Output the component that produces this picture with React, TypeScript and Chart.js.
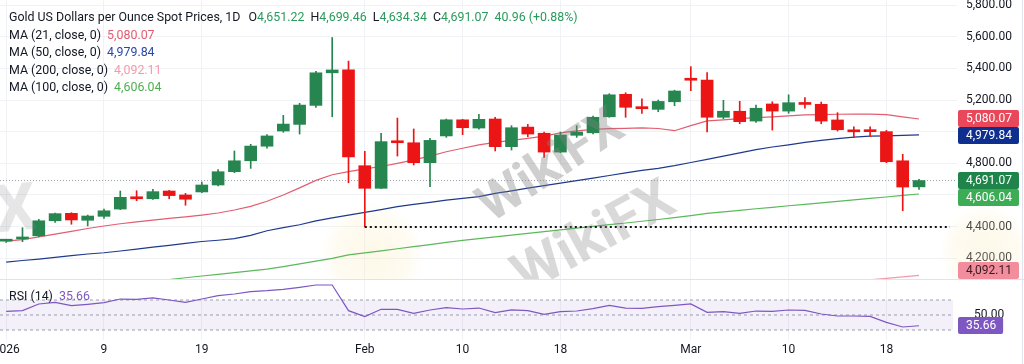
import React, { useEffect, useRef } from "react";
import { Chart, registerables } from "chart.js";

Chart.register(...registerables);

const FONT = "Roboto, 'Noto Sans', 'DejaVu Sans', sans-serif";
const UP = "#27864f";
const DOWN = "#ec1515";
const TXT = "#131722";

// ---- data ----
const dateTickIndex = [0, 6, 12, 22, 28, 34, 42, 48, 54];
const dateTickLabels = ["2026", "9", "19", "Feb", "10", "18", "Mar", "10", "18"];
const priceTicks = [4200, 4400, 4600, 4800, 5000, 5200, 5400, 5600, 5800];
const rsiTicks = [50];
const rsiLevels = [70, 50, 30];

const opens = [4308, 4322, 4342, 4437, 4484, 4440, 4465, 4511, 4587, 4576, 4625, 4600, 4619, 4663, 4747, 4816, 4908, 5004, 5046, 5166, 5372, 5390, 4785, 4642, 4939, 4930, 4804, 4973, 5075, 5023, 5080, 4905, 5029, 4990, 4871, 4977, 4993, 5094, 5236, 5158, 5141, 5189, 5335, 5326, 5091, 5129, 5067, 5175, 5130, 5183, 5173, 5074, 5001, 5003, 5000, 4816, 4651.22];
const highs = [4316, 4393, 4446, 4486, 4488, 4473, 4511, 4625, 4627, 4636, 4629, 4610, 4682, 4760, 4878, 4920, 4981, 5103, 5179, 5381, 5595, 5446, 4876, 4990, 5086, 5017, 4958, 5080, 5078, 5110, 5091, 5038, 5046, 4998, 4998, 5038, 5099, 5240, 5246, 5208, 5200, 5262, 5411, 5373, 5198, 5192, 5168, 5189, 5233, 5215, 5187, 5120, 5031, 5031, 5008, 4857, 4699.46];
const lows = [4300, 4305, 4336, 4427, 4415, 4404, 4452, 4507, 4564, 4572, 4576, 4535, 4614, 4657, 4741, 4768, 4895, 4996, 4985, 5154, 5094, 4677, 4398, 4642, 4846, 4789, 4652, 4964, 4981, 5015, 4878, 4884, 4968, 4838, 4867, 4964, 4985, 5091, 5091, 5116, 5126, 5164, 5259, 4998, 5082, 5050, 5059, 5010, 5116, 5148, 5050, 5004, 4962, 4968, 4804, 4500, 4634.34];
const closes = [4313, 4330, 4437, 4482, 4442, 4467, 4500, 4585, 4576, 4621, 4596, 4573, 4663, 4747, 4816, 4909, 4973, 5048, 5168, 5372, 5390, 4840, 4642, 4937, 4930, 4804, 4945, 5075, 5025, 5078, 4905, 5025, 4985, 4871, 4979, 4998, 5091, 5233, 5154, 5145, 5191, 5257, 5325, 5091, 5129, 5063, 5148, 5130, 5183, 5172, 5067, 5012, 4999, 5000, 4810, 4650.11, 4691.07];

const ma21 = [4308, 4318, 4335, 4352, 4370, 4388, 4404, 4418, 4430, 4441, 4452, 4462, 4473, 4486, 4505, 4528, 4560, 4600, 4645, 4692, 4728, 4747, 4765, 4780, 4800, 4822, 4845, 4873, 4895, 4916, 4932, 4945, 4958, 4972, 4992, 5005, 5014, 5019, 5021, 5024, 5020, 5006, 5038, 5068, 5075, 5082, 5089, 5094, 5100, 5106, 5108, 5110, 5111, 5111, 5108, 5094, 5080.07];
const ma50 = [4176, 4186, 4195, 4206, 4217, 4227, 4235, 4246, 4258, 4270, 4282, 4294, 4306, 4314, 4324, 4345, 4374, 4394, 4412, 4436, 4455, 4473, 4490, 4507, 4526, 4540, 4553, 4567, 4578, 4589, 4610, 4626, 4643, 4659, 4675, 4691, 4707, 4723, 4740, 4755, 4768, 4785, 4805, 4825, 4845, 4866, 4887, 4903, 4917, 4932, 4945, 4956, 4965, 4972, 4974, 4977, 4979.84];
const ma100 = [3956, 3967, 3978, 3989, 4000, 4011, 4022, 4033, 4044, 4055, 4066, 4077, 4088, 4098, 4109, 4120, 4131, 4147, 4164, 4182, 4199, 4221, 4234, 4247, 4260, 4273, 4286, 4300, 4313, 4324, 4335, 4346, 4357, 4368, 4379, 4390, 4401, 4412, 4423, 4434, 4445, 4457, 4470, 4484, 4493, 4503, 4513, 4522, 4532, 4541, 4550, 4560, 4569, 4578, 4587, 4597, 4606.04];
const ma200 = [3649, 3656, 3663, 3670, 3677, 3684, 3691, 3698, 3705, 3712, 3719, 3726, 3733, 3740, 3747, 3754, 3761, 3768, 3775, 3782, 3790, 3798, 3805, 3813, 3821, 3829, 3837, 3845, 3853, 3861, 3869, 3877, 3885, 3893, 3901, 3909, 3917, 3925, 3933, 3941, 3949, 3957, 3965, 3974, 3983, 3992, 4001, 4010, 4019, 4028, 4037, 4046, 4055, 4064, 4073, 4083, 4092.11];
const rsi14 = [54.8, 55.8, 64.7, 66.9, 62.4, 64.2, 66.4, 71.3, 70.9, 72.7, 70.0, 66.9, 71.3, 75.8, 78.0, 81.1, 82.4, 84.2, 86.9, 90.0, 90.0, 55.8, 47.8, 57.6, 57.6, 52.2, 56.7, 59.8, 58.0, 59.3, 53.1, 56.7, 55.8, 50.9, 54.4, 55.3, 58.4, 62.9, 59.3, 58.9, 61.1, 62.9, 64.7, 53.6, 54.4, 52.2, 55.3, 54.9, 56.7, 56.2, 51.3, 48.7, 48.7, 48.2, 40.2, 34.0, 35.66];

const supportLevel = 4398;
const supportStartIndex = 22;

// ---- layout constants ----
const W = 1024;
const PRICE_H = 279;
const RSI_H = 85;
const AXIS_W = 67;
const X_MIN = -0.38;
const X_MAX = 58.33;
const Y_MIN = 4069;
const Y_MAX = 5832;
const RSI_MIN = 16.67;
const RSI_MAX = 98;

const C_MA21 = "#e35d70";
const C_MA50 = "#1f3a8c";
const C_MA100 = "#5cb85c";
const C_MA200 = "#f29aaa";
const C_RSI = "#7e57c2";

const fmt = (v: number) =>
  v.toLocaleString("en-US", { minimumFractionDigits: 2, maximumFractionDigits: 2 });

const idx = opens.map((_, i) => i);
const last = idx.length - 1;
const candleColors = idx.map((i) => (closes[i] >= opens[i] ? UP : DOWN));

const badgePlugin = {
  id: "badges",
  afterDraw(chart: any, _a: any, opts: any) {
    const items = (opts && opts.items) || [];
    const scale = chart.scales.y;
    const area = chart.chartArea;
    const ctx = chart.ctx;
    const h = 17;
    const placed = items
      .map((it: any) => ({ text: it.text, bg: it.bg, fg: it.fg, py: scale.getPixelForValue(it.value) }))
      .sort((a: any, b: any) => a.py - b.py);
    for (let k = 1; k < placed.length; k++) {
      if (placed[k].py - placed[k - 1].py < h) placed[k].py = placed[k - 1].py + h;
    }
    for (let k = placed.length - 1; k >= 0; k--) {
      const maxY = area.bottom - h / 2 - 0.5;
      if (placed[k].py > maxY) placed[k].py = maxY;
    }
    ctx.save();
    ctx.font = `12px ${FONT}`;
    ctx.textBaseline = "middle";
    ctx.textAlign = "left";
    for (const p of placed) {
      const tw = ctx.measureText(p.text).width;
      ctx.fillStyle = p.bg;
      const x = area.right + 1;
      const y = Math.round(p.py - h / 2);
      ctx.beginPath();
      (ctx as any).roundRect(x, y, tw + 15, h, 2);
      ctx.fill();
      ctx.fillStyle = p.fg;
      ctx.fillText(p.text, area.right + 9, y + h / 2 + 0.5);
    }
    ctx.restore();
  },
};

const framePlugin = {
  id: "frame",
  afterDraw(chart: any, _a: any, opts: any) {
    const ctx = chart.ctx;
    ctx.save();
    ctx.strokeStyle = "#e0e3eb";
    ctx.lineWidth = 1;
    if (opts && opts.top) {
      ctx.beginPath();
      ctx.moveTo(0, 0.5);
      ctx.lineTo(chart.width, 0.5);
      ctx.stroke();
    }
    ctx.beginPath();
    ctx.moveTo(chart.width - 1.5, 0);
    ctx.lineTo(chart.width - 1.5, chart.height);
    ctx.stroke();
    ctx.restore();
  },
};

const watermarkPlugin = {
  id: "watermark",
  beforeDatasetsDraw(chart: any) {
    const ctx = chart.ctx;
    const blob = (cx: number, cy: number, r: number) => {
      const g = ctx.createRadialGradient(cx, cy, 0, cx, cy, r);
      g.addColorStop(0, "rgba(250,236,190,0.35)");
      g.addColorStop(0.7, "rgba(250,236,190,0.22)");
      g.addColorStop(1, "rgba(250,236,190,0)");
      ctx.fillStyle = g;
      ctx.fillRect(cx - r, cy - r, 2 * r, 2 * r);
    };
    ctx.save();
    blob(372, 255, 52);
    blob(985, 250, 45);
    ctx.restore();
  },
  afterDatasetsDraw(chart: any) {
    const ctx = chart.ctx;
    const draw = (t: string, x: number, y: number, rot: number, size: number, a: number) => {
      ctx.save();
      ctx.fillStyle = `rgba(130,130,130,${a})`;
      ctx.font = `bold ${size}px ${FONT}`;
      ctx.textAlign = "center";
      ctx.textBaseline = "middle";
      ctx.translate(x, y);
      ctx.rotate(rot);
      ctx.fillText(t, 0, 0);
      ctx.restore();
    };
    draw("WikiFX", 552, 168, -0.58, 52, 0.38);
    draw("WikiFX", 595, 240, -0.5, 56, 0.3);
    draw("X", 16, 214, -0.1, 66, 0.2);
  },
};

function xScale(showLabels: boolean) {
  return {
    type: "linear" as const,
    min: X_MIN,
    max: X_MAX,
    offset: false,
    border: { display: false },
    grid: { color: "#f1f2f5", drawTicks: false, offset: false },
    ticks: {
      display: showLabels,
      autoSkip: false,
      maxRotation: 0,
      padding: 3,
      color: TXT,
      font: { family: FONT, size: 12 },
      callback: (_v: any, i: number) => dateTickLabels[i],
    },
    afterBuildTicks: (s: any) => {
      s.ticks = dateTickIndex.map((v) => ({ value: v }));
    },
    afterFit: (s: any) => {
      s.paddingLeft = 0;
      s.paddingRight = 0;
      s.height = showLabels ? RSI_H - 61 : 0;
    },
  };
}

function yAxisFit(s: any) {
  s.width = AXIS_W;
  s.paddingTop = 0;
  s.paddingBottom = 0;
}

export default function App() {
  const priceRef = useRef<HTMLCanvasElement>(null);
  const rsiRef = useRef<HTMLCanvasElement>(null);

  useEffect(() => {
    document.body.style.margin = "0";
    document.body.style.background = "#ffffff";
    const line = (data: number[], color: string, order = 5, width = 1.2) => ({
      type: "line" as const,
      data: idx.map((i) => ({ x: i, y: data[i] })),
      borderColor: color,
      borderWidth: width,
      pointRadius: 0,
      tension: 0,
      order,
    });

    const price = new Chart(priceRef.current as HTMLCanvasElement, {
      type: "bar",
      data: {
        datasets: [
          {
            type: "line",
            data: [
              { x: X_MIN, y: closes[last] },
              { x: X_MAX, y: closes[last] },
            ],
            borderColor: "#9aa0aa",
            borderDash: [1, 2],
            borderWidth: 1,
            pointRadius: 0,
            order: 9,
          } as any,
          line(ma200, C_MA200, 6),
          line(ma100, C_MA100, 6),
          line(ma50, C_MA50, 5),
          line(ma21, C_MA21, 5),
          {
            type: "bar",
            data: idx.map((i) => ({ x: i, y: [lows[i], highs[i]] })),
            backgroundColor: candleColors,
            barThickness: 1,
            grouped: false,
            order: 2,
          } as any,
          {
            type: "bar",
            data: idx.map((i) => ({ x: i, y: [opens[i], closes[i]] })),
            backgroundColor: candleColors,
            barThickness: 12,
            minBarLength: 2,
            grouped: false,
            order: 1,
          } as any,
          {
            type: "line",
            data: [
              { x: supportStartIndex, y: supportLevel },
              { x: 57.9, y: supportLevel },
            ],
            borderColor: "#111111",
            borderDash: [2, 3],
            borderWidth: 2,
            pointRadius: 0,
            order: 0,
          } as any,
        ],
      },
      options: {
        responsive: false,
        animation: false,
        layout: { padding: 0 },
        plugins: {
          legend: { display: false },
          tooltip: { enabled: false },
          badges: {
            items: [
              { value: ma21[last], text: fmt(ma21[last]), bg: "#e8485a", fg: "#ffffff" },
              { value: ma50[last], text: fmt(ma50[last]), bg: "#0f2f8e", fg: "#ffffff" },
              { value: closes[last], text: fmt(closes[last]), bg: "#1f8449", fg: "#ffffff" },
              { value: ma100[last], text: fmt(ma100[last]), bg: "#3dad55", fg: "#ffffff" },
              { value: ma200[last], text: fmt(ma200[last]), bg: "#f18d9d", fg: "#3a1a20" },
            ],
          },
        } as any,
        scales: {
          x: xScale(false) as any,
          y: {
            type: "linear",
            position: "right",
            min: Y_MIN,
            max: Y_MAX,
            border: { display: false },
            grid: { color: "#f1f2f5", drawTicks: false },
            ticks: {
              color: TXT,
              padding: 9,
              font: { family: FONT, size: 12 },
              callback: (v: any) => fmt(Number(v)),
            },
            afterBuildTicks: (s: any) => {
              s.ticks = priceTicks.map((v) => ({ value: v }));
            },
            afterFit: yAxisFit,
          } as any,
        },
      },
      plugins: [watermarkPlugin, badgePlugin, framePlugin],
    });

    const band = (lvl: number, fill: any) => ({
      type: "line" as const,
      data: [
        { x: X_MIN, y: lvl },
        { x: 58.1, y: lvl },
      ],
      borderColor: "#9da1ab",
      borderDash: [3, 3],
      borderWidth: 1,
      pointRadius: 0,
      fill,
      backgroundColor: "rgba(126,87,194,0.09)",
      order: 3,
    });

    const rsi = new Chart(rsiRef.current as HTMLCanvasElement, {
      type: "line",
      data: {
        datasets: [
          {
            data: idx.map((i) => ({ x: i, y: rsi14[i] })),
            borderColor: C_RSI,
            borderWidth: 1.2,
            pointRadius: 0,
            order: 1,
          },
          band(rsiLevels[0], { value: rsiLevels[2] }) as any,
          band(rsiLevels[1], false) as any,
          band(rsiLevels[2], false) as any,
        ],
      },
      options: {
        responsive: false,
        animation: false,
        layout: { padding: 0 },
        plugins: {
          legend: { display: false },
          tooltip: { enabled: false },
          badges: {
            items: [{ value: rsi14[last], text: fmt(rsi14[last]), bg: "#7e57c2", fg: "#ffffff" }],
          },
          frame: { top: true },
        } as any,
        scales: {
          x: xScale(true) as any,
          y: {
            type: "linear",
            position: "right",
            min: RSI_MIN,
            max: RSI_MAX,
            border: { display: false },
            grid: { display: false },
            ticks: {
              color: TXT,
              padding: 9,
              font: { family: FONT, size: 12 },
              callback: (v: any) => fmt(Number(v)),
            },
            afterBuildTicks: (s: any) => {
              s.ticks = rsiTicks.map((v) => ({ value: v }));
            },
            afterFit: yAxisFit,
          } as any,
        },
      },
      plugins: [badgePlugin, framePlugin],
    });

    return () => {
      price.destroy();
      rsi.destroy();
    };
  }, []);

  const green = "#2a9a5c";
  const chg = closes[last] - closes[last - 1];
  const pct = (chg / closes[last - 1]) * 100;
  const gap = { marginLeft: 6 };
  const legendFont = `12.4px ${FONT}`;

  return (
    <div style={{ position: "relative", width: W, height: PRICE_H + RSI_H, background: "#fff", overflow: "hidden" }}>
      <canvas ref={priceRef} width={W} height={PRICE_H} style={{ position: "absolute", left: 0, top: 0, display: "block" }} />
      <canvas ref={rsiRef} width={W} height={RSI_H} style={{ position: "absolute", left: 0, top: PRICE_H, display: "block" }} />
      <div
        style={{
          position: "absolute",
          left: 9,
          top: 8,
          font: legendFont,
          lineHeight: "17.6px",
          color: TXT,
          whiteSpace: "nowrap",
        }}
      >
        <div>
          Gold US Dollars per Ounce Spot Prices, 1D
          <span style={{ marginLeft: 8 }}>O<span style={{ color: green }}>{fmt(opens[last])}</span></span>
          <span style={gap}>H<span style={{ color: green }}>{fmt(highs[last])}</span></span>
          <span style={gap}>L<span style={{ color: green }}>{fmt(lows[last])}</span></span>
          <span style={gap}>C<span style={{ color: green }}>{fmt(closes[last])}</span></span>
          <span style={{ ...gap, color: green }}>
            {fmt(chg)} (+{pct.toFixed(2)}%)
          </span>
        </div>
        <div>
          MA (21, close, 0)<span style={{ ...gap, color: C_MA21 }}>{fmt(ma21[last])}</span>
        </div>
        <div>
          MA (50, close, 0)<span style={{ ...gap, color: "#2b47a6" }}>{fmt(ma50[last])}</span>
        </div>
        <div>
          MA (200, close, 0)<span style={{ ...gap, color: C_MA200 }}>{fmt(ma200[last])}</span>
        </div>
        <div>
          MA (100, close, 0)<span style={{ ...gap, color: "#4caf50" }}>{fmt(ma100[last])}</span>
        </div>
      </div>
      <div
        style={{
          position: "absolute",
          left: 9,
          top: PRICE_H + 8,
          font: legendFont,
          lineHeight: "17.6px",
          color: TXT,
          whiteSpace: "nowrap",
        }}
      >
        RSI (14)<span style={{ ...gap, color: C_RSI }}>{fmt(rsi14[last])}</span>
      </div>
    </div>
  );
}
